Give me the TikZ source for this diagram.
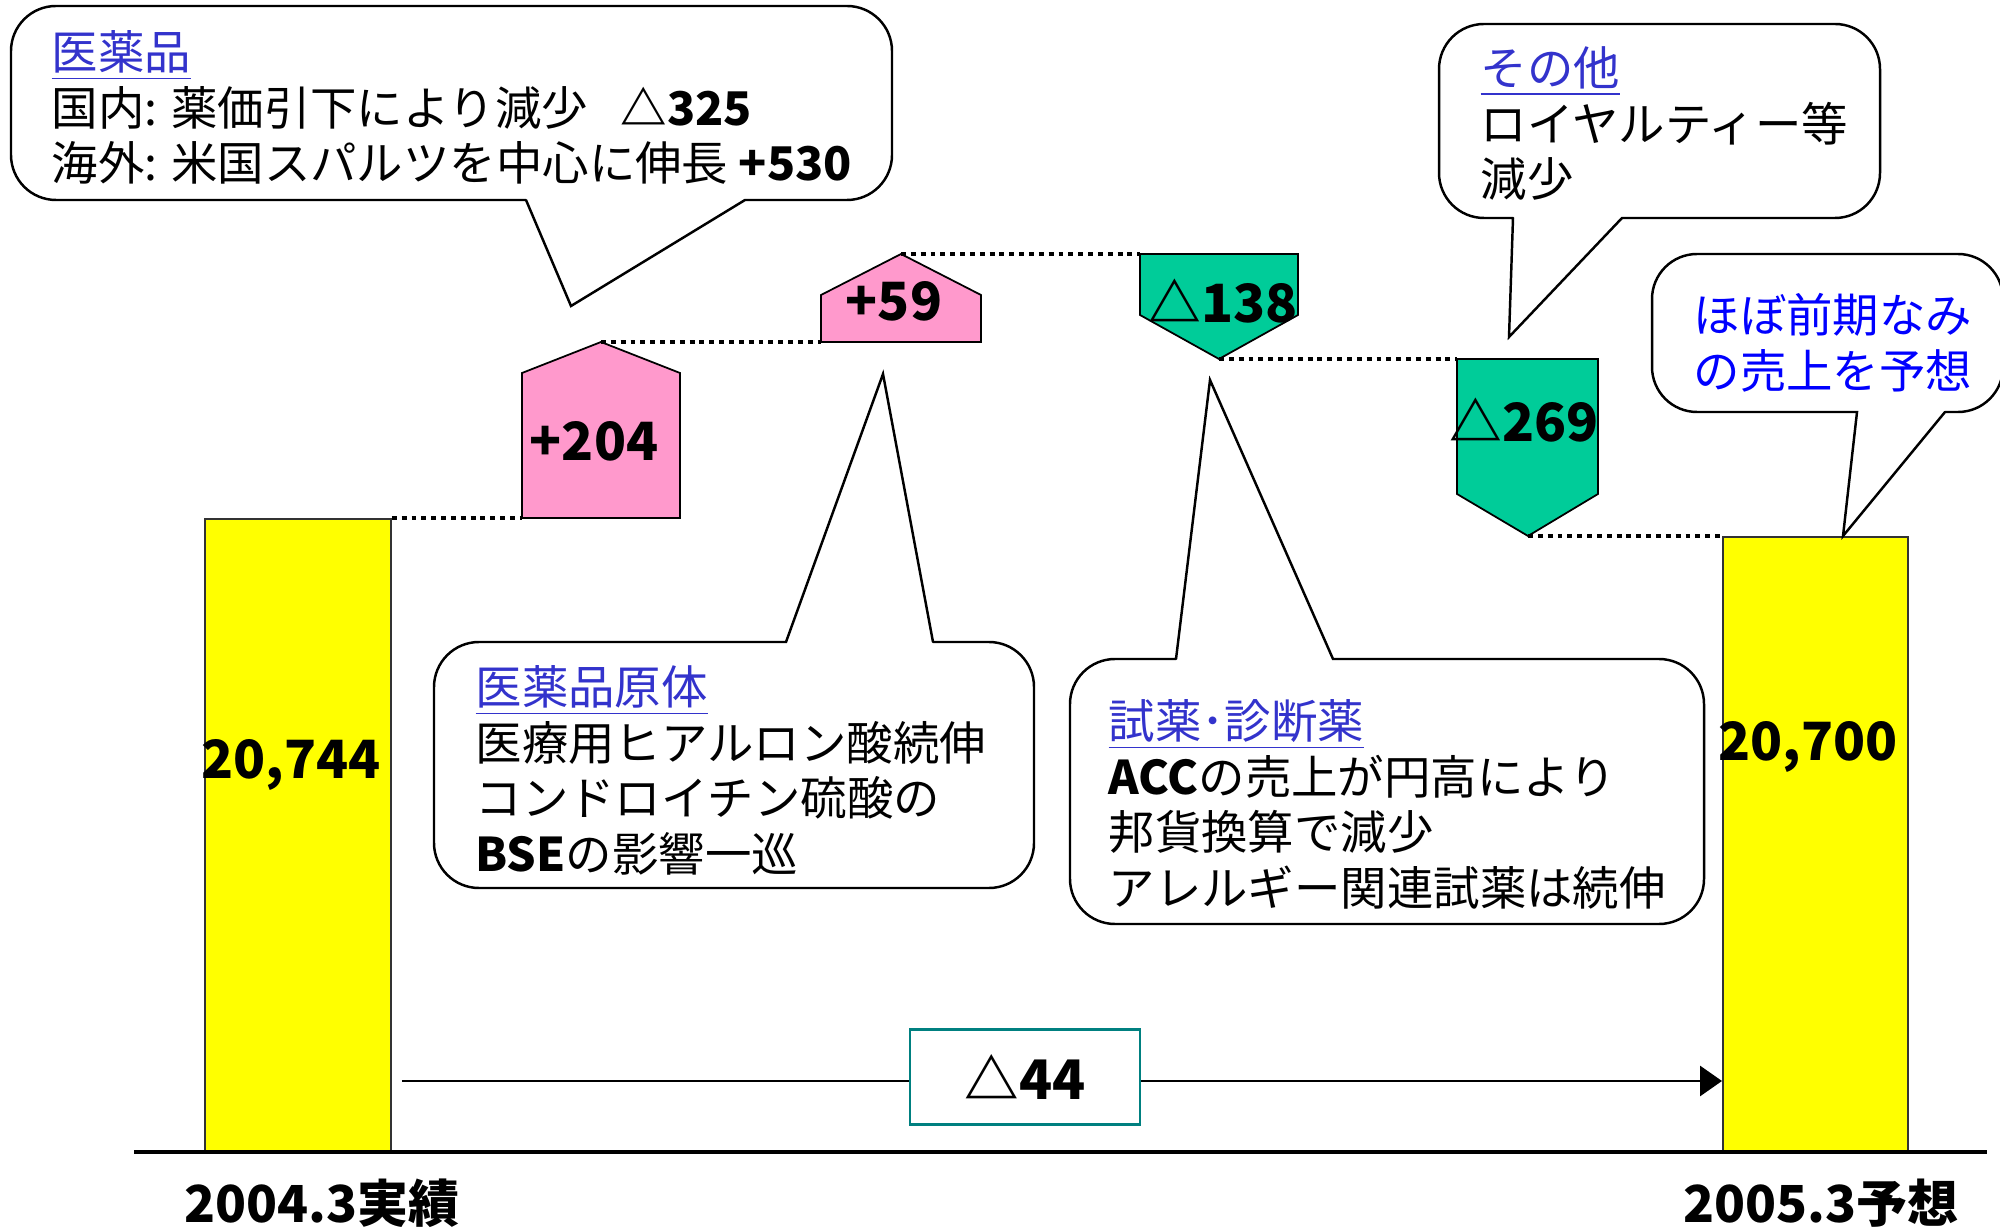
\documentclass[tikz,border=0pt]{standalone}
\usepackage{fontspec}
\setmainfont{Noto Sans CJK JP}
\usepackage{xcolor}
\usepackage{tikz}
\usetikzlibrary{arrows.meta}

\definecolor{barYellow}{RGB}{255,255,0}
\definecolor{upPink}{RGB}{255,153,204}
\definecolor{downGreen}{RGB}{0,204,153}
\definecolor{headBlue}{RGB}{51,51,204}
\definecolor{noteBlue}{RGB}{0,0,255}
\definecolor{diffTeal}{RGB}{0,128,128}

\newcommand{\callhead}[1]{\textcolor{headBlue}{\underline{#1}}}

\begin{document}
\begin{tikzpicture}[
    x=0.01cm, y=-0.01cm,
    bar/.style={rectangle, draw=black!80, line width=0.5pt, fill=barYellow, anchor=north west, inner sep=0pt},
    upbox/.style={draw=black, line width=0.5pt, fill=upPink},
    downbox/.style={draw=black, line width=0.5pt, fill=downGreen},
    level/.style={line width=1.4pt, dash pattern=on 1.4pt off 1.4pt},
    num/.style={font=\fontsize{15pt}{18pt}\selectfont\bfseries, inner sep=0pt},
    yearlbl/.style={font=\fontsize{14.5pt}{17pt}\selectfont\bfseries, inner sep=0pt},
    bubble/.style={draw=black, line width=0.7pt, line cap=round, fill=white},
    note/.style={font=\fontsize{13.2pt}{15.8pt}\selectfont, align=left, anchor=north west, inner sep=0pt},
    diffbox/.style={rectangle, draw=diffTeal, line width=0.6pt, fill=white, minimum width=2.3cm, minimum height=0.95cm},
    arrow/.style={-{Triangle[length=0.22cm, width=0.3cm]}, line width=0.85pt}
]
    \useasboundingbox (0,0) rectangle (2000,1228);

    % bars
    \node[bar, minimum width=1.86cm, minimum height=6.34cm] (bar04) at (204,518) {};
    \node[bar, minimum width=1.85cm, minimum height=6.16cm] (bar05) at (1722,536) {};
    \draw[line width=0.9pt] (134,1152) -- (1987,1152);

    % total change
    \coordinate (mid) at (1025,1081);
    \draw[arrow, shorten <=0.1cm] (bar04.east |- mid) -- (bar05.west |- mid);
    \node[diffbox, font=\fontsize{15.5pt}{19pt}\selectfont\bfseries] (diff) at (1025,1077) {△44};

    % steps
    \filldraw[upbox] (522,518) coordinate (p204) -- (522,373) -- (601,342) coordinate (t204) -- (680,373) -- (680,518) -- cycle;
    \filldraw[upbox] (821,342) coordinate (p59) -- (821,295) -- (901,254) coordinate (t59) -- (981,295) -- (981,342) -- cycle;
    \filldraw[downbox] (1140,254) coordinate (p138) -- (1298,254) -- (1298,315) -- (1219,359) coordinate (t138) -- (1140,315) -- cycle;
    \filldraw[downbox] (1457,359) coordinate (p269) -- (1598,359) -- (1598,494) -- (1528,536) coordinate (t269) -- (1457,494) -- cycle;

    \draw[level] (bar04.north east) -- (p204);
    \draw[level] (t204) -- (p59);
    \draw[level] (t59) -- (p138);
    \draw[level] (t138) -- (p269);
    \draw[level] (t269) -- (bar05.north west);

    \node[num] (v04) at (291,765) {20,744};
    \node[num] (v05) at (1808,747) {20,700};
    \node[num] (v204) at (594,441) {+204};
    \node[num] (v59) at (894,301) {+59};
    \node[num] (v138) at (1223,301) {△138};
    \node[num] (v269) at (1524,420) {△269};

    \node[yearlbl] (y04) at (322,1203) {2004.3実績};
    \node[yearlbl] (y05) at (1821,1203) {2005.3予想};

    % callouts
    \draw[bubble] (526,200) -- (571,306) -- (745,200) -- (800,200)
        [rounded corners=0.45cm] -- (892,200) -- (892,6) -- (11,6) -- (11,200) -- (526,200);
    \draw[bubble] (933,642) -- (883,374) -- (786,642) -- (700,642)
        [rounded corners=0.45cm] -- (434,642) -- (434,888) -- (1034,888) -- (1034,642) -- (933,642);
    \draw[bubble] (1176,659) -- (1210,380) -- (1333,659) -- (1400,659)
        [rounded corners=0.45cm] -- (1704,659) -- (1704,924) -- (1070,924) -- (1070,659) -- (1176,659);
    \draw[bubble] (1513,218) -- (1509,337) -- (1622,218) -- (1700,218)
        [rounded corners=0.45cm] -- (1880,218) -- (1880,24) -- (1439,24) -- (1439,218) -- (1513,218);
    \draw[bubble] (1945,412) -- (1843,536) -- (1857,412) -- (1800,412)
        [rounded corners=0.45cm] -- (1652,412) -- (1652,254) -- (2003,254) -- (2003,412) -- (1945,412);

    \node[note] (drugs) at (51,30) {\callhead{医薬品}\\国内: 薬価引下により減少\hspace{0.7em}\textbf{△325}\\海外: 米国スパルツを中心に伸長 \textbf{+530}};
    \node[note] (bulk) at (475,665) {\callhead{医薬品原体}\\医療用ヒアルロン酸続伸\\コンドロイチン硫酸の\\\textbf{BSE}の影響一巡};
    \node[note] (reagent) at (1108,699) {\callhead{試薬･診断薬}\\\textbf{ACC}の売上が円高により\\邦貨換算で減少\\アレルギー関連試薬は続伸};
    \node[note] (other) at (1480,46) {\callhead{その他}\\ロイヤルティー等\\減少};
    \node[note, text=noteBlue] (outlook) at (1693,293) {ほぼ前期なみ\\の売上を予想};
\end{tikzpicture}
\end{document}
